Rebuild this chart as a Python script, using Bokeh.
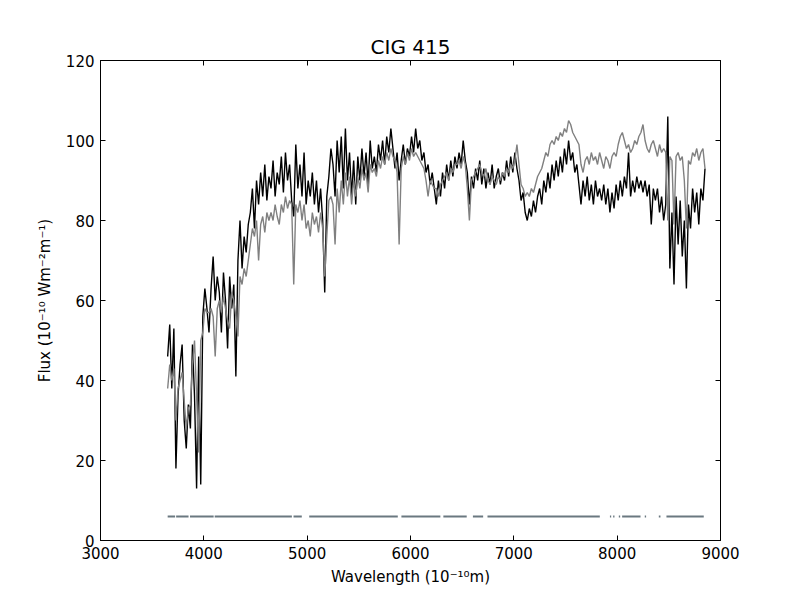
from bokeh.plotting import figure
from bokeh.models import LinearAxis, FixedTicker, Range1d
from bokeh.embed import file_html
from bokeh.resources import INLINE

# ---- data ----
wave_start = 3650
wave_step = 20
wave_end = 8850

observed_flux = [
    46, 54, 38, 53, 18, 36, 44, 49, 30, 23,
    34, 28, 49, 36, 13, 46, 14, 56, 63, 58,
    52, 63, 71, 60, 66, 62, 52, 67, 60, 48,
    66, 58, 64, 41, 70, 80, 68, 76, 72, 79,
    82, 88, 78, 90, 84, 92, 86, 94, 85, 91,
    88, 95, 86, 92, 89, 96, 87, 97, 90, 94,
    85, 81, 99, 88, 94, 86, 97, 84, 90, 86,
    92, 84, 90, 82, 88, 80, 62, 86, 91, 98,
    94, 86, 100, 92, 101, 88, 103, 90, 97, 86,
    95, 84, 96, 90, 98, 91, 97, 89, 100, 93,
    96, 92, 99, 95, 100, 94, 101, 97, 103, 98,
    93, 97, 90, 95, 99, 94, 98, 96, 101, 97,
    103, 98, 100, 95, 97, 92, 94, 89, 92, 88,
    84, 90, 86, 92, 88, 94, 90, 95, 91, 96,
    93, 97, 94, 100, 95, 92, 84, 91, 88, 93,
    90, 95, 89, 93, 88, 92, 89, 94, 88, 91,
    93, 89, 92, 90, 95, 91, 96, 92, 97, 93,
    90, 85, 87, 82, 80, 83, 81, 85, 82, 86,
    88, 84, 90, 87, 92, 88, 94, 90, 95, 91,
    96, 92, 98, 94, 100, 95, 97, 92, 94, 89,
    84, 90, 86, 91, 85, 89, 84, 90, 86, 88,
    85, 89, 84, 88, 82, 87, 83, 89, 85, 90,
    86, 91, 88, 97, 86, 90, 87, 91, 88, 90,
    87, 90, 86, 89, 79, 88, 85, 88, 82, 86,
    80, 84, 106, 68, 82, 64, 86, 74, 85, 71,
    80, 63, 84, 78, 88, 82, 87, 79, 88, 85,
    93,
]

model_flux = [
    38, 44, 40, 43, 30, 38, 40, 42, 35, 28,
    33, 34, 44, 50, 36, 22, 50, 52, 58, 57,
    57, 58, 56, 46, 58, 60, 57, 61, 58, 55,
    53, 62, 60, 56, 51, 66, 64, 68, 66, 70,
    74, 78, 76, 80, 70, 79, 81, 77, 82, 80,
    82, 80, 84, 81, 79, 84, 82, 86, 83, 85,
    84, 64, 84, 82, 85, 80, 84, 78, 80, 76,
    82, 79, 81, 77, 82, 78, 66, 76, 85, 86,
    84, 74, 88, 82, 90, 84, 92, 86, 91, 84,
    90, 86, 91, 88, 93, 90, 92, 87, 94, 92,
    93, 91, 95, 93, 96, 94, 97, 95, 98, 96,
    95, 92, 74, 93, 96, 94, 97, 95, 98, 96,
    97, 96, 95, 94, 93, 90, 86, 90, 89, 88,
    88, 86, 89, 90, 91, 92, 90, 93, 92, 94,
    94, 95, 93, 96, 94, 88, 80, 90, 91, 92,
    93, 94, 92, 91, 93, 90, 89, 91, 90, 89,
    91, 90, 92, 91, 93, 92, 94, 93, 95, 99,
    94, 89, 88, 86, 87, 86, 88, 87, 89, 91,
    92, 93, 95, 97, 96, 99, 100, 99, 101, 100,
    102, 101, 103, 102, 105, 104, 102, 101, 100, 99,
    94, 92, 95, 96, 94, 97, 95, 96, 94, 97,
    95, 93, 96, 95, 93, 96, 97, 96, 99, 101,
    102, 100, 98, 99, 97, 98, 100, 99, 101, 102,
    104, 100, 98, 97, 99, 100, 98, 96, 99, 97,
    98, 97, 80, 96, 95, 79, 96, 97, 95, 96,
    90, 78, 95, 94, 97, 96, 98, 95, 97, 98,
    93,
]

mask_level = 6
mask_starts = [3650, 3732, 3866, 4105, 4868, 5020, 5912, 6318, 6604, 6745,
               7930, 7961, 8016, 8048, 8267, 8403, 8477]
mask_ends = [3722, 3852, 4095, 4852, 4948, 5877, 6289, 6544, 6703, 7832,
             7942, 7974, 8029, 8226, 8280, 8419, 8838]

x_ticks = [3000, 4000, 5000, 6000, 7000, 8000, 9000]
y_ticks = [0, 20, 40, 60, 80, 100, 120]

title_text = "CIG 415"
x_label = "Wavelength (10\u207b\u00b9\u2070m)"
y_label = "Flux (10\u207b\u00b9\u2070 Wm\u207b\u00b2m\u207b\u00b9)"

wavelength = list(range(wave_start, wave_end + 1, wave_step))
assert len(wavelength) == len(observed_flux) == len(model_flux)

FONT = "DejaVu Sans"

p = figure(width=800, height=600,
           x_range=Range1d(3000, 9000), y_range=Range1d(0, 120),
           output_backend="svg", toolbar_location=None,
           title=title_text,
           min_border_left=100, min_border_right=80,
           min_border_top=60, min_border_bottom=60)
p.grid.visible = False
p.outline_line_color = "black"
p.outline_line_width = 1
p.background_fill_color = "white"
p.border_fill_color = "white"

p.title.align = "center"
p.title.text_font = FONT
p.title.text_font_size = "20px"
p.title.text_font_style = "normal"
p.title.text_color = "black"
p.title.standoff = 4

def style_axis(ax, show_labels):
    ax.major_tick_in = 5
    ax.major_tick_out = 0
    ax.minor_tick_line_color = None
    ax.major_tick_line_color = "black"
    ax.axis_line_color = "black"
    ax.major_label_text_font = FONT
    if show_labels:
        ax.major_label_text_font_size = "15px"
        ax.major_label_text_color = "black"
        ax.major_label_standoff = 6
    else:
        ax.major_label_text_font_size = "1px"
        ax.major_label_text_color = None
        ax.major_label_standoff = 0
    ax.axis_label_text_font = FONT
    ax.axis_label_text_font_size = "15px"
    ax.axis_label_text_font_style = "normal"
    ax.axis_label_text_color = "black"

p.xaxis.ticker = FixedTicker(ticks=x_ticks)
p.yaxis.ticker = FixedTicker(ticks=y_ticks)
p.xaxis.axis_label = x_label
p.yaxis.axis_label = y_label
style_axis(p.xaxis[0], True)
style_axis(p.yaxis[0], True)
p.xaxis[0].axis_label_standoff = 6
p.yaxis[0].axis_label_standoff = 9

top_axis = LinearAxis(ticker=FixedTicker(ticks=x_ticks))
right_axis = LinearAxis(ticker=FixedTicker(ticks=y_ticks))
style_axis(top_axis, False)
style_axis(right_axis, False)
p.add_layout(top_axis, "above")
p.add_layout(right_axis, "right")

p.line(wavelength, observed_flux, line_color="black", line_width=1.4)
p.line(wavelength, model_flux, line_color="#808080", line_width=1.4)
p.segment(x0=mask_starts, y0=[mask_level] * len(mask_starts),
          x1=mask_ends, y1=[mask_level] * len(mask_ends),
          line_color="#6a7880", line_width=2.2)

open("out.html", "w").write(file_html(p, INLINE))
